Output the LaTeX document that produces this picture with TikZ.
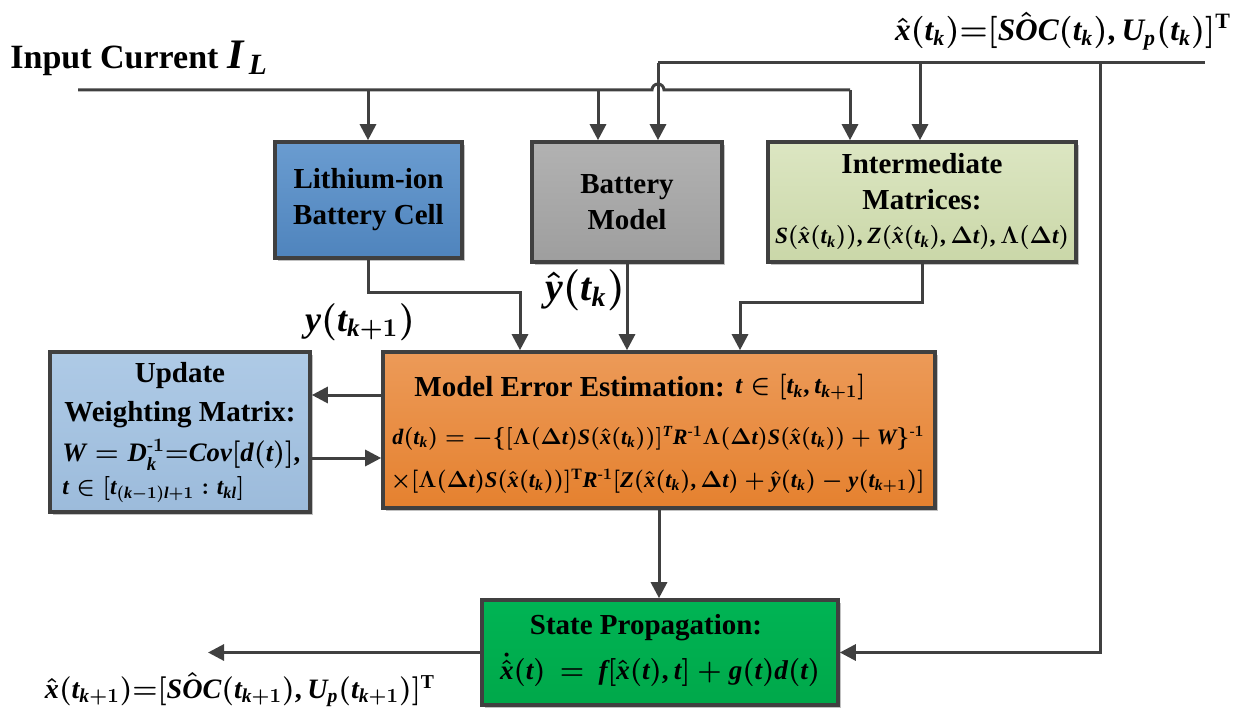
\documentclass[tikz,border=0pt]{standalone}
\usepackage{amsmath}
\usepackage{fontspec}
\setmainfont{Liberation Serif}
\newfontfamily\tbfam{Liberation Serif}[NFSSFamily=lbs]
\DeclareSymbolFont{tlet}{TU}{lbs}{m}{it}
\SetSymbolFont{tlet}{bold}{TU}{lbs}{bx}{it}
\DeclareSymbolFont{tup}{TU}{lbs}{m}{n}
\SetSymbolFont{tup}{bold}{TU}{lbs}{bx}{n}
\makeatletter
\count@=`a
\loop \Umathcode\count@=7 \symtlet \count@ \advance\count@ 1 \ifnum\count@<123 \repeat
\count@=`A
\loop \Umathcode\count@=7 \symtlet \count@ \advance\count@ 1 \ifnum\count@<91 \repeat
\count@=`0
\loop \Umathcode\count@=7 \symtup \count@ \advance\count@ 1 \ifnum\count@<58 \repeat
\makeatother
\Umathcode`(=4 \symtup `(
\Umathcode`)=5 \symtup `)
\Umathcode`[=4 \symtup `[
\Umathcode`]=5 \symtup `]
\Umathcode`,=6 \symtup `,
\Umathcode`+=2 \symtup `+
\Umathcode`==3 \symtup `=
\Umathcode`:=3 \symtup `:
\usetikzlibrary{arrows.meta,shadows,calc}
\definecolor{ln}{HTML}{404040}
\definecolor{libT}{HTML}{6A9CD0}\definecolor{libB}{HTML}{4F84BD}
\definecolor{bmT}{HTML}{B2B2B2}\definecolor{bmB}{HTML}{9E9E9E}
\definecolor{imT}{HTML}{DCE6C2}\definecolor{imB}{HTML}{CAD7A8}
\definecolor{upT}{HTML}{AECAE6}\definecolor{upB}{HTML}{9CBBDB}
\definecolor{meT}{HTML}{EC9A58}\definecolor{meB}{HTML}{E5812F}
\definecolor{spT}{HTML}{00B454}\definecolor{spB}{HTML}{00A84A}
\newcommand{\bm}[1]{{\boldmath$#1$}}
\tikzset{
  blk/.style={draw=ln,line width=1.8pt,rectangle,inner sep=0pt,align=center,
     font=\bfseries\fontsize{14.5}{18}\selectfont,
     drop shadow={shadow xshift=1.5pt,shadow yshift=-1.5pt,opacity=0.35,fill=black!70}},
  conn/.style={draw=ln,line width=1.5pt},
  arr/.style={conn,-{Triangle[length=8pt,width=8pt]}},
  ttl/.style={font=\bfseries\fontsize{14.5}{18}\selectfont,inner sep=0pt},
  big/.style={font=\bfseries\fontsize{17}{20}\selectfont,inner sep=0pt},
  mth/.style={inner sep=0pt,font=\fontsize{14}{17}\selectfont}
}
\begin{document}
\begin{tikzpicture}[x=0.5pt,y=-0.5pt]
\useasboundingbox (0,0) rectangle (1246,711);
% boxes
\node[blk,top color=libT,bottom color=libB,minimum width=93.5pt,minimum height=58pt] (lib) at (368.5,200) {Lithium-ion\\Battery Cell};
\node[blk,top color=bmT,bottom color=bmB,minimum width=95pt,minimum height=60pt] (bm) at (627,202) {Battery\\Model};
\node[blk,top color=imT,bottom color=imB,minimum width=154pt,minimum height=60pt] (im) at (922,202) {};
\node[blk,top color=upT,bottom color=upB,minimum width=130pt,minimum height=80pt] (upd) at (180,432) {};
\node[blk,top color=meT,bottom color=meB,minimum width=276pt,minimum height=78pt] (me) at (659,430) {};
\node[blk,top color=spT,bottom color=spB,minimum width=178pt,minimum height=52.5pt] (sp) at (660,652.5) {};
% box texts
\node[ttl] (imt1) at (922,164) {Intermediate};
\node[ttl] (imt2) at (922,200) {Matrices:};
\node[mth] (imt3) at (922,238) {\resizebox{147pt}{!}{\bm{S(\hat{x}(t_k)),Z(\hat{x}(t_k),\Delta t),\Lambda(\Delta t)}}};
\node[ttl] (upt1) at (180,376) {Update};
\node[ttl] (upt2) at (180,415) {Weighting Matrix:};
\node[mth,anchor=west] (upt3) at (62,455) {\resizebox{119pt}{!}{\bm{W=D_k^{\text{-}1}{=}Cov[d(t)],}}};
\node[mth,anchor=west] (upt4) at (62,490) {\resizebox{91pt}{!}{\bm{t\in[t_{(k-1)l+1}:t_{kl}]}}};
\node[ttl,anchor=west] (met1) at (414,387) {Model Error Estimation:};
\node[mth,anchor=west] (met2) at (735,387) {\resizebox{65pt}{!}{\bm{t\in[t_k,t_{k+1}]}}};
\node[mth] (met3) at (658.5,438) {\resizebox{266pt}{!}{\bm{d(t_k)=-\{[\Lambda(\Delta t)S(\hat{x}(t_k))]^{T}R^{\text{-}1}\Lambda(\Delta t)S(\hat{x}(t_k))+W\}^{\text{-}1}}}};
\node[mth] (met4) at (657.5,481) {\resizebox{267pt}{!}{\bm{\times[\Lambda(\Delta t)S(\hat{x}(t_k))]^{\mathrm{T}}R^{\text{-}1}[Z(\hat{x}(t_k),\Delta t)+\hat{y}(t_k)-y(t_{k+1})]}}};
\node[ttl] (spt1) at (646,628) {State Propagation:};
\node[mth] (spt2) at (660,670) {\resizebox{160pt}{!}{\bm{\dot{\hat{x}}(t)\,=\,f[\hat{x}(t),t]+g(t)d(t)}}};
% outer labels
\node[big,anchor=west] (inlbl) at (10,58) {Input Current~{\fontsize{21}{24}\selectfont\bm{I_{\,L}}}};
\node[mth] (xk) at (1063,31) {\resizebox{168pt}{!}{\bm{\hat{x}(t_k){=}[S\hat{O}C(t_k),U_p(t_k)]^{\mathrm{T}}}}};
\node[mth] (xk1) at (240,690) {\resizebox{195pt}{!}{\bm{\hat{x}(t_{k+1}){=}[S\hat{O}C(t_{k+1}),U_p(t_{k+1})]^{\mathrm{T}}}}};
\node[mth] (ylbl) at (360,322) {\resizebox{55pt}{!}{\bm{y(t_{k+1})}}};
\node[mth] (yhat) at (585,290) {\resizebox{40pt}{!}{\bm{\hat{y}(t_k)}}};
% coordinates
\coordinate (ilA) at (78,90);
\coordinate (ilE) at (850,90);
\coordinate (j1) at (368,90);
\coordinate (j2) at (598,90);
\coordinate (xa) at (658,63);
\coordinate (xe) at (1205,63);
\coordinate (j4) at (920,63);
\coordinate (j5) at (1100,63);
\coordinate (a1) at (520,292);
\coordinate (a3) at (740,302);
\coordinate (b1) at (345,395);
\coordinate (b2) at (345,458);
\coordinate (outE) at (208,652.5);
% input current line with hop
\draw[conn] (ilA) -- (652,90) arc[start angle=180,end angle=360,radius=6] -- (ilE);
\draw[arr] (j1) -- (j1|-lib.north);
\draw[arr] (j2) -- (j2|-bm.north);
\draw[arr] (ilE) -- (ilE|-im.north);
% state line
\draw[conn] (xa) -- (xe);
\draw[arr] (xa) -- (xa|-bm.north);
\draw[arr] (j4) -- (j4|-im.north);
\draw[arr] (j5) |- (sp.east);
% into model error
\draw[arr] (lib.south) |- (a1) -- (a1|-me.north);
\draw[arr] (bm.south) -- (bm.south|-me.north);
\draw[arr] (im.south) |- (a3) -- (a3|-me.north);
% side loop
\draw[arr] (me.west|-b1) -- (upd.east|-b1);
\draw[arr] (upd.east|-b2) -- (me.west|-b2);
% down
\draw[arr] (me.south) -- (me.south|-sp.north);
\draw[arr] (sp.west) -- (outE);
\end{tikzpicture}
\end{document}
